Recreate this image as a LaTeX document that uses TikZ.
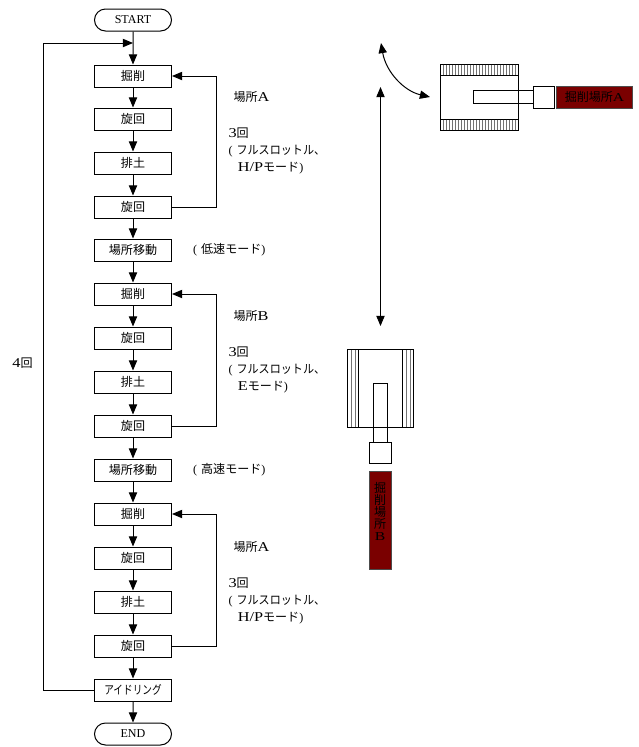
\documentclass[tikz,border=0pt]{standalone}
\usepackage{fontspec}
\setmainfont{Liberation Serif}
\newfontfamily\jpfont{Noto Sans CJK JP}
\newcommand{\jp}[1]{{\jpfont #1}}
\newcommand{\thinjp}[2][.92]{\scalebox{#1}[1]{\jpfont #2}}
\newcommand{\wide}[1]{\scalebox{1.35}[1.12]{#1}}
\usetikzlibrary{arrows.meta,shapes.misc}
\definecolor{pitred}{RGB}{122,0,0}
\begin{document}
\begin{tikzpicture}[x=0.75pt,y=-0.75pt,line width=0.75pt,
  every node/.style={font=\fontsize{9bp}{12.75pt}\selectfont},
  stepbox/.style={draw,minimum width=57.75pt,minimum height=16.5pt,inner sep=0pt},
  endbox/.style={draw,rounded rectangle,minimum width=57.75pt,minimum height=16.5pt,inner sep=0pt},
  flow/.style={-{Triangle[length=7.6pt,width=6.2pt]}},
  twoway/.style={{Triangle[length=7.6pt,width=6.2pt]}-{Triangle[length=7.6pt,width=6.2pt]}},
  note/.style={anchor=west,inner sep=0pt,align=left},
  pit/.style={draw=black!70,fill=pitred,inner sep=0pt},
  hatch/.style={line width=0.4pt,black!55}]
\useasboundingbox (0,0) rectangle (639,747);
% flow chart
\node[endbox] (start) at (133,20) {START};
\coordinate (merge) at (133,43);
\node[stepbox] (digA) at (133,76) {\jp{掘削}};
\node[stepbox] (turnA) at (133,119) {\jp{旋回}};
\node[stepbox] (dumpA) at (133,163) {\jp{排土}};
\node[stepbox] (backA) at (133,207) {\jp{旋回}};
\node[stepbox] (moveA) at (133,250) {\jp{場所移動}};
\node[stepbox] (digB) at (133,294) {\jp{掘削}};
\node[stepbox] (turnB) at (133,338) {\jp{旋回}};
\node[stepbox] (dumpB) at (133,382) {\jp{排土}};
\node[stepbox] (backB) at (133,426) {\jp{旋回}};
\node[stepbox] (moveB) at (133,470) {\jp{場所移動}};
\node[stepbox] (digC) at (133,514) {\jp{掘削}};
\node[stepbox] (turnC) at (133,558) {\jp{旋回}};
\node[stepbox] (dumpC) at (133,602) {\jp{排土}};
\node[stepbox] (backC) at (133,646) {\jp{旋回}};
\node[stepbox] (idle) at (133,690) {\thinjp[.8]{アイドリング}};
\node[endbox] (end) at (133,734) {END};
\draw[flow] (start) -- (digA);
\draw[flow] (digA) -- (turnA);
\draw[flow] (turnA) -- (dumpA);
\draw[flow] (dumpA) -- (backA);
\draw[flow] (backA) -- (moveA);
\draw[flow] (moveA) -- (digB);
\draw[flow] (digB) -- (turnB);
\draw[flow] (turnB) -- (dumpB);
\draw[flow] (dumpB) -- (backB);
\draw[flow] (backB) -- (moveB);
\draw[flow] (moveB) -- (digC);
\draw[flow] (digC) -- (turnC);
\draw[flow] (turnC) -- (dumpC);
\draw[flow] (dumpC) -- (backC);
\draw[flow] (backC) -- (idle);
\draw[flow] (idle) -- (end);
\draw[flow] (backA.east) -- ++(44,0) |- (digA.east);
\draw[flow] (backB.east) -- ++(44,0) |- (digB.east);
\draw[flow] (backC.east) -- ++(44,0) |- (digC.east);
\draw[flow] (idle.west) -- ++(-51,0) |- (merge);
% notes
\node[note] (loops) at (12,363) {\wide{4}\jp{回}};
\node[note] (placeA) at (233,97) {\jp{場所}\wide{A}};
\node[note] (timesA) at (228,151) {\wide{3}\jp{回}\\(\hspace{3pt}\thinjp{フルスロットル、}\\\hspace{7pt}\wide{H/P}\jp{モード})};
\node[note] (slow) at (190,250) {\hspace{2pt}(\hspace{3pt}\jp{低速モード})};
\node[note] (placeB) at (233,316) {\jp{場所}\wide{B}};
\node[note] (timesB) at (228,370) {\wide{3}\jp{回}\\(\hspace{3pt}\thinjp{フルスロットル、}\\\hspace{7pt}\wide{E}\jp{モード})};
\node[note] (fast) at (190,470) {\hspace{2pt}(\hspace{3pt}\jp{高速モード})};
\node[note] (placeC) at (233,547) {\jp{場所}\wide{A}};
\node[note] (timesC) at (228,601) {\wide{3}\jp{回}\\(\hspace{3pt}\thinjp{フルスロットル、}\\\hspace{7pt}\wide{H/P}\jp{モード})};
% machine facing place A
\draw (440,64) rectangle (518,130);
\draw (440,75) -- (518,75) (440,119) -- (518,119);
\foreach \x in {443,446,...,516} {
  \draw[hatch] (\x,64.5) -- (\x,74.5);
  \draw[hatch] (\x,119.5) -- (\x,129.5);
}
\draw (473.5,90.5) rectangle (533,103.5);
\node[draw,minimum width=16pt,minimum height=16.5pt,inner sep=0pt] (bucketA) at (544,97.5) {};
\node[pit,minimum width=57.5pt,minimum height=16.5pt] (pitA) at (594.5,97) {\jp{掘削場所}\scalebox{1.3}[1]{A}};
% machine facing place B
\draw (347,349.5) rectangle (413.5,427);
\draw (358.5,349.5) -- (358.5,427) (402.5,349.5) -- (402.5,427);
\foreach \x in {351,355,406,410} {
  \draw[hatch] (\x,350) -- (\x,426.5);
}
\draw (373.5,383) rectangle (387,442);
\node[draw,minimum width=16.5pt,minimum height=16pt,inner sep=0pt] (bucketB) at (380,453) {};
\node[pit,minimum width=16.8pt,minimum height=74pt,align=center,
  font=\fontsize{9bp}{9bp}\selectfont] (pitB) at (380.2,520.5) {\jp{掘}\\\jp{削}\\\jp{場}\\\jp{所}\\\scalebox{1.3}[1]{B}\\[4.5pt]\mbox{}};
% swing and travel arrows
\coordinate (swingto) at (381,43);
\coordinate (swingfrom) at (430,97);
\draw[twoway] (swingto) .. controls (386,72) and (404,91) .. (swingfrom);
\coordinate (travtop) at (380.5,87);
\coordinate (travbot) at (380.5,326);
\draw[twoway] (travtop) -- (travbot);
\end{tikzpicture}
\end{document}
